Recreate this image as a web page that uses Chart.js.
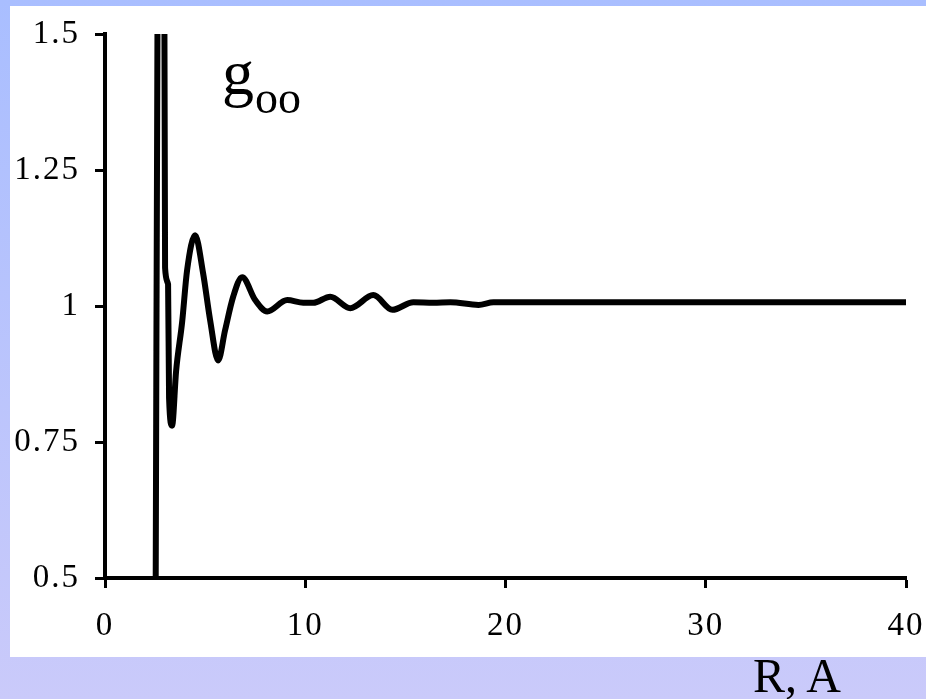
<!DOCTYPE html>
<html>
<head>
<meta charset="utf-8">
<script src="https://cdn.jsdelivr.net/npm/chart.js@4/dist/chart.umd.min.js"></script>
<style>
  html, body { margin: 0; padding: 0; }
  body {
    width: 926px; height: 699px; overflow: hidden; position: relative;
    background: linear-gradient(#a9beff, #cacafa);
  }
  #caja {
    position: absolute; left: 10px; top: 6px; width: 916px; height: 651px;
    background: #ffffff;
  }
  #etiquetaR {
    position: absolute; left: 753px; top: 652px;
    font-family: "Liberation Serif", "Times New Roman", serif;
    font-size: 48px; line-height: 48px; color: #000; white-space: nowrap;
  }
</style>
</head>
<body>
<div id="caja"><canvas id="grafico" width="916" height="651"></canvas></div>
<div id="etiquetaR">R, A</div>
<script>
// distancia R (A) y g_OO(R)
const distancias = [2.5, 2.7, 2.85, 3.0, 3.15, 3.2, 3.35, 3.55, 3.85, 4.1, 4.5, 4.9, 5.25, 5.65,
    6.0, 6.4, 6.85, 7.5, 8.1, 9.1, 9.9, 10.4, 11.25, 12.25, 13.4, 14.35, 15.4, 16.4, 17.25,
    18.65, 19.4, 40];
const valoresG = [0.1, 2.4, 3.1, 1.07, 1.04, 0.83, 0.78, 0.88, 0.97, 1.066, 1.13, 1.06, 0.974, 0.90,
    0.956, 1.017, 1.053, 1.011, 0.99, 1.011, 1.006, 1.006, 1.017, 0.996, 1.02, 0.993, 1.007, 1.006, 1.007,
    1.002, 1.007, 1.007];
const ticksX = [0, 10, 20, 30, 40];
const ticksY = [0.5, 0.75, 1, 1.25, 1.5];

const fuenteEjes = { family: "'Liberation Serif', serif", size: 33 };

function generarPuntos(xs, ys) {
    const puntos = [];
    for (let i = 0; i < xs.length; i++) {
        puntos.push({ x: xs[i], y: ys[i] });
    }
    return puntos;
}

// etiqueta g_oo dentro del area; ademas el texto de los ejes va algo espaciado
const etiquetaG = {
    id: 'etiquetaG',
    beforeDraw(chart) {
        chart.ctx.letterSpacing = '2px';
    },
    afterDraw(chart) {
        const ctx = chart.ctx;
        const area = chart.chartArea;
        ctx.save();
        ctx.letterSpacing = '0px';
        ctx.fillStyle = '#000';
        ctx.textBaseline = 'alphabetic';
        ctx.textAlign = 'left';
        ctx.font = "normal 64px 'Liberation Serif', serif";
        ctx.fillText('g', area.left + 117, 88);
        ctx.font = "normal 46px 'Liberation Serif', serif";
        ctx.fillText('oo', area.left + 150, 107);
        ctx.restore();
    }
};

// los ejes no piden margen extra, asi manda layout.padding
function sinMargen(eje) {
    eje.paddingTop = 0;
    eje.paddingBottom = 0;
    eje.paddingLeft = 0;
    eje.paddingRight = 0;
}

const ctx = document.getElementById('grafico').getContext('2d');
new Chart(ctx, {
    type: 'line',
    data: {
        datasets: [{
            label: 'g',
            data: generarPuntos(distancias, valoresG),
            borderColor: '#000',
            borderWidth: 6,
            pointRadius: 0,
            fill: false,
            cubicInterpolationMode: 'monotone',
            borderJoinStyle: 'round',
            borderCapStyle: 'round',
            clip: 0
        }]
    },
    options: {
        responsive: false,
        animation: false,
        events: [],
        layout: { padding: { left: 0, top: 28, right: 20, bottom: 0 } },
        plugins: { legend: { display: false }, tooltip: { enabled: false } },
        scales: {
            x: {
                type: 'linear',
                min: 0, max: 40,
                afterBuildTicks: (eje) => { eje.ticks = ticksX.map(v => ({ value: v })); },
                afterFit: (eje) => { eje.height = 79; sinMargen(eje); },
                ticks: { color: '#000', font: fuenteEjes, padding: 19, maxRotation: 0 },
                grid: { drawOnChartArea: false, drawTicks: true, tickLength: 10, tickWidth: 3, tickColor: '#000', color: '#000' },
                border: { color: '#000', width: 4 }
            },
            y: {
                type: 'linear',
                min: 0.5, max: 1.5,
                afterBuildTicks: (eje) => { eje.ticks = ticksY.map(v => ({ value: v })); },
                afterFit: (eje) => { eje.width = 95; sinMargen(eje); },
                ticks: { color: '#000', font: fuenteEjes, padding: 15, callback: (v) => String(v) },
                grid: { drawOnChartArea: false, drawTicks: true, tickLength: 10, tickWidth: 3, tickColor: '#000', color: '#000' },
                border: { color: '#000', width: 4 }
            }
        }
    },
    plugins: [etiquetaG]
});
</script>
</body>
</html>
